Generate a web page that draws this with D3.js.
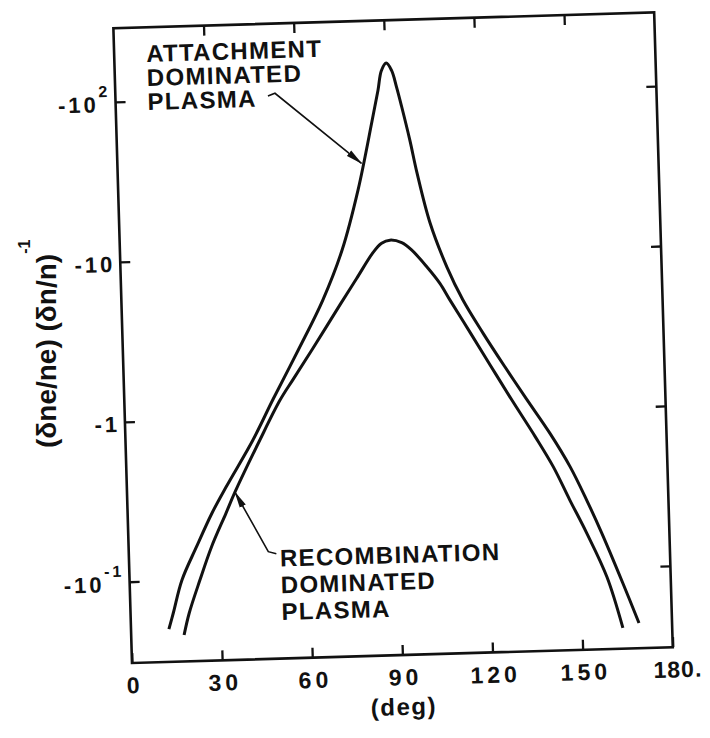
<!DOCTYPE html>
<html>
<head>
<meta charset="utf-8">
<script src="https://cdn.jsdelivr.net/npm/d3@7"></script>
<style>
  html, body { margin: 0; padding: 0; background: #fff; }
  svg { display: block; }
  text { font-family: "Liberation Sans", Arial, Helvetica, sans-serif; font-weight: bold; fill: #111; }
</style>
</head>
<body>
<svg id="chart" width="710" height="738"></svg>
<script>
// Attachment-dominated plasma: angle (deg) and (δne/ne)(δn/n)^-1
const attachAngle = [12.6, 14.2, 17.4, 22.6, 28.0, 33.0, 42.4, 49.4, 58.35, 67.0, 73.9, 79.8,
  85.1, 87.4, 88.7, 90.4, 92.1, 93.6, 95.1, 97.5, 99.6, 103.4, 108.6, 113.6, 120.0, 126.9,
  133.8, 141.2, 147.6, 152.8, 157.5, 164.0, 169.0];
const attachValue = [-0.0498, -0.0624, -0.100, -0.161, -0.258, -0.375, -0.73, -1.29, -2.61,
  -5.30, -10.8, -25.5, -68, -106, -140, -156, -140, -110, -83, -51, -31.5, -15.4, -8.09, -5.0,
  -3.07, -1.88, -1.17, -0.71, -0.435, -0.267, -0.165, -0.0798, -0.0446];

// Recombination-dominated plasma
const recombAngle = [17.6, 19.5, 23.4, 27.6, 32.7, 35.9, 44.7, 51.8, 56.3, 63.2, 72.7, 78.5, 84.2,
  87.1, 89.9, 93.8, 97.0, 101.9, 106.1, 109.3, 116.0, 122.3, 128.8, 136.3, 142.0, 147.2, 152.5,
  158.8, 163.6];
const recombValue = [-0.0454, -0.062, -0.0995, -0.16, -0.257, -0.347, -0.727, -1.28, -1.71, -2.65,
  -4.93, -7.15, -10.3, -11.7, -12.2, -11.7, -10.5, -8.2, -6.42, -5.02, -3.05, -1.90, -1.17,
  -0.68, -0.438, -0.269, -0.166, -0.0875, -0.0418];

const xTicks = [0, 30, 60, 90, 120, 150, 180];
const xTickLabels = ["0", "30", "60", "90", "120", "150", "180."];
const xInnerTicks = [30, 60, 90, 120, 150];
const yTicks = [-0.1, -1, -10, -100];
const yTickBase = ["-10", "-1", "-10", "-10"];
const yTickExp = ["-1", "", "", "2"];

const attachLabel = ["ATTACHMENT", "DOMINATED", "PLASMA"];
const recombLabel = ["RECOMBINATION", "DOMINATED", "PLASMA"];
// arrow anchors on each curve: [angle, value]
const attachArrowAt = [81.2, -37.3];
const recombArrowAt = [35.9, -0.347];

// ---- layout ----
const originX = 132, originY = 663;
const plotW = 541, plotH = 635;
const tilt = -1.68;
const plotLeft = originX, plotTop = originY - plotH;

const svg = d3.select("#chart");
svg.append("rect").attr("width", 710).attr("height", 738).attr("fill", "#fff");

svg.append("defs").append("marker")
  .attr("id", "head")
  .attr("viewBox", "0 -4 17 8")
  .attr("refX", 16).attr("refY", 0)
  .attr("markerUnits", "userSpaceOnUse")
  .attr("markerWidth", 17).attr("markerHeight", 8)
  .attr("orient", "auto")
  .append("path")
  .attr("d", "M0,-3.4 L17,0 L0,3.4 Z")
  .attr("fill", "#111");

const frame = svg.append("g").attr("transform", `rotate(${tilt},${originX},${originY})`);
const plot = frame.append("g").attr("transform", `translate(${plotLeft},${plotTop})`);

const x = d3.scaleLinear().domain([0, 180]).range([0, plotW]);
const y = d3.scaleLog().domain([-0.03105, -288.8]).range([plotH, 0]);

// ---- axes ----
function styleAxis(g) {
  g.attr("font-size", null).attr("font-family", null);
  g.select(".domain").remove();
  g.selectAll(".tick line").attr("stroke", "#111").attr("stroke-width", 2.3);
}

const bottomAx = plot.append("g")
  .attr("transform", `translate(0,${plotH})`)
  .call(d3.axisBottom(x).tickValues(xTicks).tickSizeInner(-10).tickSizeOuter(0)
    .tickPadding(14).tickFormat((d, i) => xTickLabels[i]));
styleAxis(bottomAx);
bottomAx.selectAll(".tick text")
  .style("font-size", "23px").attr("fill", "#111")
  .attr("letter-spacing", (d, i) => i === xTicks.length - 1 ? 1 : 4)
  .attr("dx", (d, i) => i === xTicks.length - 1 ? 4 : 2);

const leftAx = plot.append("g")
  .call(d3.axisLeft(y).tickValues(yTicks).tickSizeInner(-10).tickSizeOuter(0)
    .tickPadding(5).tickFormat((d, i) => yTickBase[i]));
styleAxis(leftAx);
leftAx.selectAll(".tick text")
  .style("font-size", "22px").attr("letter-spacing", 3).attr("dy", "0.42em").attr("fill", "#111")
  .each(function (d, i) {
    if (yTickExp[i]) {
      d3.select(this).append("tspan").attr("dy", -15).style("font-size", "16px").text(yTickExp[i]);
    }
  });

const topAx = plot.append("g")
  .call(d3.axisTop(x).tickValues(xInnerTicks).tickSizeInner(-10).tickSizeOuter(0).tickFormat(""));
styleAxis(topAx);

const rightAx = plot.append("g")
  .attr("transform", `translate(${plotW},0)`)
  .call(d3.axisRight(y).tickValues(yTicks).tickSizeInner(-10).tickSizeOuter(0).tickFormat(""));
styleAxis(rightAx);

plot.append("rect")
  .attr("width", plotW).attr("height", plotH)
  .attr("fill", "none").attr("stroke", "#111").attr("stroke-width", 2.6);

// ---- curves ----
const line = d3.line()
  .x(d => x(d[0]))
  .y(d => y(d[1]))
  .curve(d3.curveCatmullRom.alpha(0.5));

const series = [
  d3.zip(attachAngle, attachValue),
  d3.zip(recombAngle, recombValue)
];
plot.selectAll("path.curve")
  .data(series)
  .join("path")
  .attr("class", "curve")
  .attr("d", line)
  .attr("fill", "none")
  .attr("stroke", "#111")
  .attr("stroke-width", 3)
  .attr("stroke-linejoin", "round");

// ---- annotations ----
function block(lines, x0, y0, pitch) {
  frame.append("text")
    .attr("x", x0).attr("y", y0)
    .style("font-size", "24px").attr("letter-spacing", 1.3)
    .selectAll("tspan").data(lines).join("tspan")
    .attr("x", x0).attr("dy", (d, i) => i === 0 ? 0 : pitch)
    .text(d => d);
}
block(attachLabel, 164, 62.7, 24);
block(recombLabel, 283, 570.9, 26.8);

const tipA = [plotLeft + x(attachArrowAt[0]), plotTop + y(attachArrowAt[1])];
const tipR = [plotLeft + x(recombArrowAt[0]), plotTop + y(recombArrowAt[1])];

frame.append("path")
  .attr("d", `M284.5,100.2 L291.6,97.7 L${tipA[0]},${tipA[1]}`)
  .attr("fill", "none").attr("stroke", "#111").attr("stroke-width", 1.6)
  .attr("marker-end", "url(#head)");
frame.append("path")
  .attr("d", `M279.5,558 L271.5,555.7 L${tipR[0]},${tipR[1]}`)
  .attr("fill", "none").attr("stroke", "#111").attr("stroke-width", 1.6)
  .attr("marker-end", "url(#head)");

// x axis title
frame.append("text")
  .attr("x", plotLeft + x(90)).attr("y", 723)
  .attr("text-anchor", "middle")
  .style("font-size", "24px").attr("letter-spacing", 1.5)
  .text("(deg)");

// y axis title
const yTitle = svg.append("text")
  .attr("transform", "translate(56,448) rotate(-90)")
  .style("font-size", "28px");
yTitle.append("tspan").text("(δne/ne) (δn/n)");
yTitle.append("tspan").attr("dy", -26).style("font-size", "16px").text("-1");
</script>
</body>
</html>
